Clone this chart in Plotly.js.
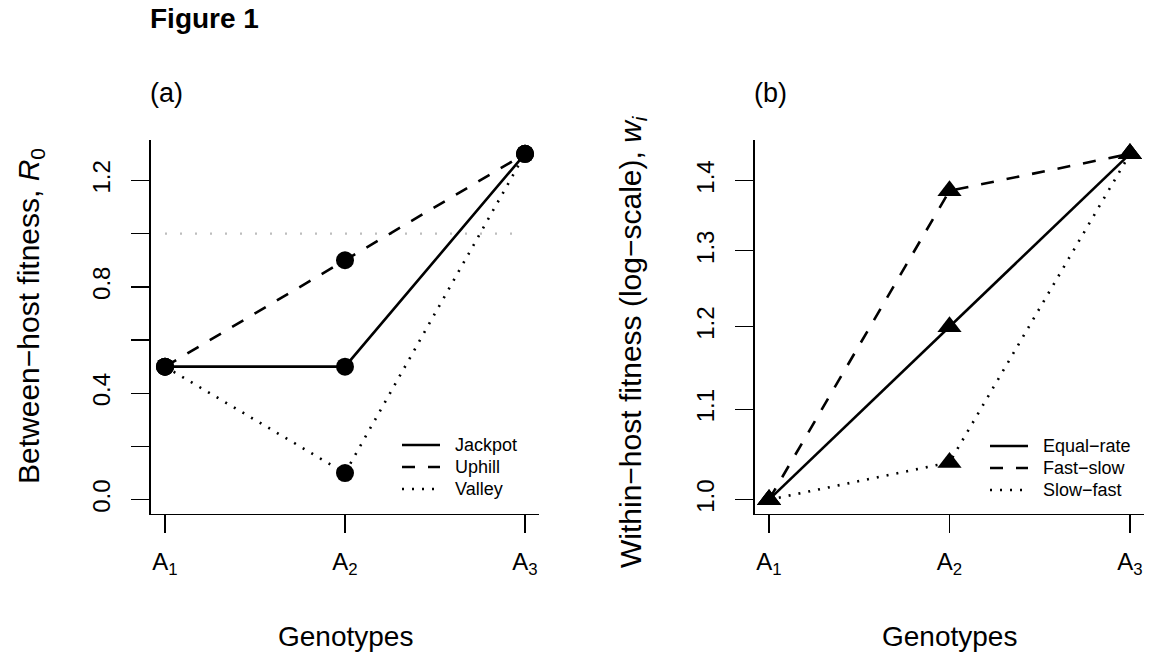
<!DOCTYPE html>
<html>
<head>
<meta charset="utf-8">
<script src="https://cdn.plot.ly/plotly-3.0.1.min.js"></script>
<style>html,body{margin:0;padding:0;background:#fff;}#chart{width:1149px;height:656px;}</style>
</head>
<body>
<div id="chart"></div>
<script>
// ---- data ----
const genotypes = [1, 2, 3];
const genotypeLabels = ['A<sub>1</sub>', 'A<sub>2</sub>', 'A<sub>3</sub>'];

// panel (a): between-host fitness R0
const seriesNamesA = ['Jackpot', 'Uphill', 'Valley'];
const jackpot = [0.5, 0.5, 1.3];
const uphill  = [0.5, 0.9, 1.3];
const valley  = [0.5, 0.1, 1.3];
const r0Threshold = 1.0;
const r0TickVals = [0, 0.2, 0.4, 0.6, 0.8, 1.0, 1.2];
const r0TickText = ['0.0', '', '0.4', '', '0.8', '', '1.2'];

// panel (b): within-host fitness (log-scale)
const seriesNamesB = ['Equal\u2212rate', 'Fast\u2212slow', 'Slow\u2212fast'];
const equalRate = [1.0, 1.2, 1.44];
const fastSlow  = [1.0, 1.385, 1.44];
const slowFast  = [1.0, 1.04, 1.44];
const wTickVals = [1.0, 1.1, 1.2, 1.3, 1.4];
const wTickText = ['1.0', '1.1', '1.2', '1.3', '1.4'];

// ---- styling ----
const FONT = 'Liberation Sans, Arial, Helvetica, sans-serif';
const W = 1149, H = 656;
const px = v => v / W;
const py = v => (H - v) / H;
const LW = 2.6;
const DASHES = ['solid', '13px,13px', '2px,8px'];

function pad(lo, hi) { const d = (hi - lo) * 0.04; return [lo - d, hi + d]; }
const xRange = pad(1, 3);
const yRangeA = pad(0, 1.3);
const yRangeB = pad(Math.log10(1.0), Math.log10(1.44));

function lineTrace(y, name, dash, xa, ya) {
  return {x: genotypes, y: y, name: name, mode: 'lines', xaxis: xa, yaxis: ya, showlegend: false,
    line: {color: 'black', width: LW, dash: dash}, hoverinfo: 'skip'};
}
function markerTrace(y, name, sym, size, xa, ya) {
  return {x: genotypes, y: y, name: name, mode: 'markers', xaxis: xa, yaxis: ya, showlegend: false,
    marker: {symbol: sym, size: size, color: 'black', line: {width: 0}}, hoverinfo: 'skip'};
}

const seriesA = [jackpot, uphill, valley];
const seriesB = [equalRate, fastSlow, slowFast];

const traces = [
  {x: [genotypes[0], genotypes[2]], y: [r0Threshold, r0Threshold], mode: 'lines', showlegend: false,
   xaxis: 'x', yaxis: 'y', line: {color: '#bdbdbd', width: 2.2, dash: '2px,13px'}, hoverinfo: 'skip'}
];
seriesA.forEach((s, i) => traces.push(lineTrace(s, seriesNamesA[i], DASHES[i], 'x', 'y')));
seriesA.forEach((s, i) => traces.push(markerTrace(s, seriesNamesA[i], 'circle', 18, 'x', 'y')));
seriesB.forEach((s, i) => traces.push(lineTrace(s, seriesNamesB[i], DASHES[i], 'x2', 'y2')));
seriesB.forEach((s, i) => traces.push(markerTrace(s, seriesNamesB[i], 'triangle-up', 21, 'x2', 'y2')));

const axisCommon = {
  showgrid: false, zeroline: false, showline: true, linecolor: 'black', linewidth: 1.3,
  ticks: 'outside', ticklen: 18, tickwidth: 1.3, tickcolor: 'black',
  tickfont: {family: FONT, size: 24, color: 'black'}, fixedrange: true
};
const yDomain = [py(513.5), py(140)];

// manual legends (R-style, compact rows)
const shapes = [];
const annotations = [];
function addLegend(names, lineX0, lineX1, textX, rowY0, rowGap) {
  names.forEach((nm, i) => {
    const yy = py(rowY0 + i * rowGap);
    shapes.push({type: 'line', xref: 'paper', yref: 'paper', x0: px(lineX0), x1: px(lineX1), y0: yy, y1: yy,
      line: {color: 'black', width: LW, dash: DASHES[i]}});
    annotations.push({text: nm, xref: 'paper', yref: 'paper', x: px(textX), y: yy, xanchor: 'left', yanchor: 'middle',
      showarrow: false, font: {size: 18, family: FONT, color: 'black'}});
  });
}
addLegend(seriesNamesA, 402, 440, 453, 445, 22);
addLegend(seriesNamesB, 990, 1028, 1041, 446, 22);

annotations.push(
  {text: '<b>Figure 1</b>', xref: 'paper', yref: 'paper', x: px(148), y: py(19), xanchor: 'left', yanchor: 'middle',
   showarrow: false, font: {size: 28, family: FONT}},
  {text: '(a)', xref: 'paper', yref: 'paper', x: px(148), y: py(93), xanchor: 'left', yanchor: 'middle',
   showarrow: false, font: {size: 27, family: FONT}},
  {text: '(b)', xref: 'paper', yref: 'paper', x: px(752), y: py(93), xanchor: 'left', yanchor: 'middle',
   showarrow: false, font: {size: 27, family: FONT}},
  {text: 'Genotypes', xref: 'paper', yref: 'paper', x: px(345), y: py(636), xanchor: 'center', yanchor: 'middle',
   showarrow: false, font: {size: 28, family: FONT}},
  {text: 'Genotypes', xref: 'paper', yref: 'paper', x: px(949), y: py(636), xanchor: 'center', yanchor: 'middle',
   showarrow: false, font: {size: 28, family: FONT}},
  {text: 'Between\u2212host fitness, <i>R</i><sub>0</sub>', xref: 'paper', yref: 'paper', x: px(30), y: py(316),
   xanchor: 'center', yanchor: 'middle', textangle: -90, showarrow: false, font: {size: 30, family: FONT}},
  {text: 'Within\u2212host fitness (log\u2212scale), <i>w</i><sub><i>i</i></sub>', xref: 'paper', yref: 'paper', x: px(632), y: py(342),
   xanchor: 'center', yanchor: 'middle', textangle: -90, showarrow: false, font: {size: 30, family: FONT}}
);

const layout = {
  width: W, height: H,
  margin: {l: 0, r: 0, t: 0, b: 0},
  paper_bgcolor: 'white', plot_bgcolor: 'white',
  showlegend: false,
  font: {family: FONT, color: 'black'},
  xaxis: Object.assign({}, axisCommon, {domain: [px(150.6), px(539.4)], range: xRange, anchor: 'y',
    tickvals: genotypes, ticktext: genotypeLabels, ticklabelstandoff: 8}),
  yaxis: Object.assign({}, axisCommon, {domain: yDomain, range: yRangeA, anchor: 'x',
    tickvals: r0TickVals, ticktext: r0TickText, tickangle: -90, ticklabelstandoff: 12}),
  xaxis2: Object.assign({}, axisCommon, {domain: [px(754.6), px(1144.4)], range: xRange, anchor: 'y2',
    tickvals: genotypes, ticktext: genotypeLabels, ticklabelstandoff: 8}),
  yaxis2: Object.assign({}, axisCommon, {type: 'log', domain: yDomain, range: yRangeB, anchor: 'x2',
    tickvals: wTickVals, ticktext: wTickText, tickangle: -90, ticklabelstandoff: 12}),
  shapes: shapes,
  annotations: annotations
};

Plotly.newPlot('chart', traces, layout, {displayModeBar: false, staticPlot: true});
</script>
</body>
</html>
